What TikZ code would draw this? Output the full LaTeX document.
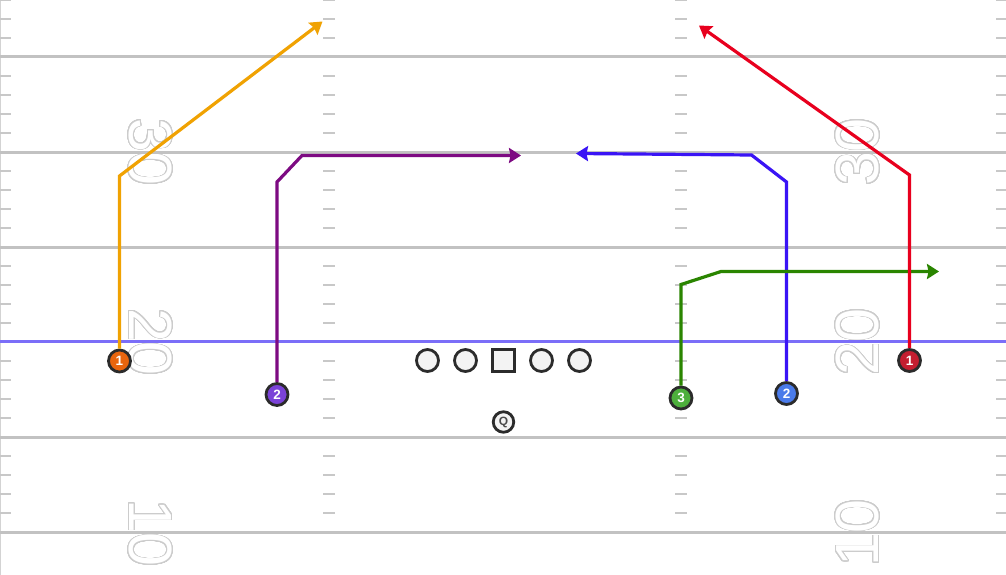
\documentclass[tikz,border=0pt]{standalone}
\usepackage{fontspec}
\setmainfont{Liberation Sans}
\usepackage[copies]{contour}
\contourlength{0.85pt}
\contournumber{32}
\usetikzlibrary{arrows.meta}
\definecolor{yardgray}{HTML}{C2C2C2}
\definecolor{hashgray}{HTML}{C8C8C8}
\definecolor{numgray}{HTML}{CCCCCC}
\definecolor{losblue}{HTML}{7B6EF8}
\definecolor{ringdark}{HTML}{2B2B2B}
\definecolor{olfill}{HTML}{F3F3F3}
\definecolor{routeorange}{HTML}{F0A202}
\definecolor{routepurple}{HTML}{7D0A82}
\definecolor{routeblue}{HTML}{3A14F5}
\definecolor{routegreen}{HTML}{2A8500}
\definecolor{routered}{HTML}{E8001E}
\definecolor{fillorange}{HTML}{E8650E}
\definecolor{fillpurple}{HTML}{7B42D8}
\definecolor{fillgreen}{HTML}{4DAF3C}
\definecolor{fillblue}{HTML}{4A7BEA}
\definecolor{fillred}{HTML}{C41E30}
\begin{document}
\begin{tikzpicture}[x=1pt,y=-1pt,
  yardline/.style={draw=yardgray,line width=3pt},
  hashmark/.style={draw=hashgray,line width=2pt},
  yardnum/.style={inner sep=0pt,text=white,font=\fontsize{61}{61}\selectfont},
  player/.style={circle,draw=ringdark,line width=2.8pt,minimum size=22pt,inner sep=0pt,
    text=white,font=\bfseries\fontsize{13.5}{13.5}\selectfont},
  lineman/.style={circle,draw=ringdark,line width=2.8pt,minimum size=22pt,inner sep=0pt,fill=olfill},
  centerbox/.style={rectangle,draw=ringdark,line width=2.8pt,minimum size=22pt,inner sep=0pt,fill=olfill},
  qbox/.style={circle,draw=ringdark,line width=2.8pt,minimum size=20.5pt,inner sep=0pt,fill=olfill,
    text=ringdark!85,font=\bfseries\fontsize{12}{12}\selectfont},
  route/.style={line width=3.2pt,line join=miter,-{Stealth[length=12pt,width=15pt,inset=1.5pt]}}]
\useasboundingbox (0,0) rectangle (1006,575);
\fill[white] (0,0) rectangle (1006,575);
% yard numbers
\node[yardnum,rotate=-90] (l30) at (150,152) {\contour{numgray}{30}};
\node[yardnum,rotate=-90] (l20) at (150,342) {\contour{numgray}{20}};
\node[yardnum,rotate=-90] (l10) at (150,533) {\contour{numgray}{10}};
\node[yardnum,rotate=90] (r30) at (858,152) {\contour{numgray}{30}};
\node[yardnum,rotate=90] (r20) at (858,342) {\contour{numgray}{20}};
\node[yardnum,rotate=90] (r10) at (858,533) {\contour{numgray}{10}};
% sideline
\draw[hashgray!80,line width=1pt] (0.5,0) -- (0.5,575);
% hash marks
\foreach \y in {0,19,38,76,95,114,133,171,190,209,228,266,285,304,323,361,380,399,418,456,475,494,513}{
  \draw[hashmark] (0,\y) -- (11,\y);
  \draw[hashmark] (323,\y) -- (335,\y);
  \draw[hashmark] (675,\y) -- (687,\y);
  \draw[hashmark] (996,\y) -- (1006,\y);
}
% yard lines
\foreach \y in {57,152,247,437,532}{\draw[yardline] (0,\y) -- (1006,\y);}
\draw[draw=losblue,line width=3pt] (0,341.5) -- (1006,341.5);
% offensive line
\node[lineman] (lt) at (427.5,360.5) {};
\node[lineman] (lg) at (465.5,360.5) {};
\node[centerbox] (c) at (503.5,360.5) {};
\node[lineman] (rg) at (541.5,360.5) {};
\node[lineman] (rt) at (579.5,360.5) {};
\node[qbox] (q) at (503.5,422) {Q};
% receivers
\node[player,fill=fillorange] (wo) at (119.5,361) {1};
\node[player,fill=fillpurple] (wp) at (277,394.5) {2};
\node[player,fill=fillgreen] (wg) at (681,398) {3};
\node[player,fill=fillblue] (wb) at (786.5,393.5) {2};
\node[player,fill=fillred] (wr) at (909.5,360.5) {1};
% route points
\coordinate (o1) at (119.5,176);
\coordinate (o2) at (322.5,21.5);
\coordinate (pu1) at (277,182);
\coordinate (pu2) at (302,155.5);
\coordinate (pu3) at (521,155.5);
\coordinate (b1) at (786.5,182);
\coordinate (b2) at (751.5,155);
\coordinate (b3) at (576,153.5);
\coordinate (g1) at (681,284.5);
\coordinate (g2) at (721,271.5);
\coordinate (g3) at (939,271.5);
\coordinate (r1) at (909.5,175);
\coordinate (r2) at (699,25.5);
% routes
\draw[route,routeorange] (wo) -- (o1) -- (o2);
\draw[route,routepurple] (wp) -- (pu1) -- (pu2) -- (pu3);
\draw[route,routeblue] (wb) -- (b1) -- (b2) -- (b3);
\draw[route,routegreen] (wg) -- (g1) -- (g2) -- (g3);
\draw[route,routered] (wr) -- (r1) -- (r2);
\end{tikzpicture}
\end{document}
